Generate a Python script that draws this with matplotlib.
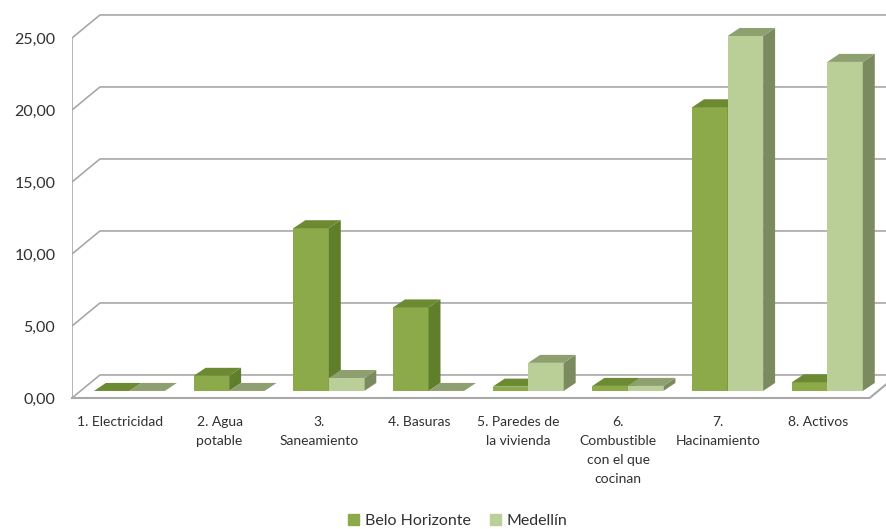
import matplotlib
matplotlib.use('Agg')
import matplotlib.pyplot as plt
import matplotlib.patches as mpatches
from matplotlib.patches import Polygon

plt.rcParams['font.family'] = ['Lato', 'DejaVu Sans']

categories = ['1. Electricidad', '2. Agua\npotable', '3.\nSaneamiento', '4. Basuras',
              '5. Paredes de\nla vivienda', '6.\nCombustible\ncon el que\ncocinan',
              '7.\nHacinamiento', '8. Activos']
belo_horizonte = [0.0, 1.05, 11.3, 5.8, 0.3, 0.35, 19.7, 0.6]
medellin = [0.0, 0.0, 0.9, 0.0, 1.95, 0.35, 24.65, 22.85]
y_ticks = [0, 5, 10, 15, 20, 25]
y_tick_labels = ['0,00', '5,00', '10,00', '15,00', '20,00', '25,00']
series_names = ['Belo Horizonte', 'Medellín']

# faces: front, top, side
BH_COLORS = ('#8DAA4B', '#6B8A32', '#5F7F2B')
MED_COLORS = ('#BACF97', '#8E9F70', '#7B8B5F')
GRID = '#A8A8A8'

# oblique "3d" offsets in data units
WALL_DX, WALL_DY = 0.28, 1.6
BAR_DX, BAR_DY = 0.12, 0.556
BAR_BASE = 0.49
BAR_W = 0.356
BAR_X0 = 0.22

W, H = 887, 529
fig = plt.figure(figsize=(W / 100, H / 100), dpi=100)
ax = fig.add_axes([72 / W, (H - 398) / H, 815 / W, 398 / H])
ax.set_xlim(0, 815 / 99.7)
ax.set_ylim(0, 398 / 14.4)
for s in ax.spines.values():
    s.set_visible(False)

# walls / gridlines
xr = len(categories) + 1
for v in y_ticks:
    ax.plot([0, WALL_DX, xr], [v, v + WALL_DY, v + WALL_DY], color=GRID, lw=1.2,
            zorder=1, solid_capstyle='butt')
ax.plot([0, 0], [0, y_ticks[-1]], color=GRID, lw=1.2, zorder=1)
# floor front edge
n = len(categories)
ax.plot([0, n, n + WALL_DX], [0, 0, WALL_DY], color=GRID, lw=1.5, zorder=1, clip_on=False)


def draw_bar(x, h, colors, z):
    front, top, side = colors
    b = BAR_BASE
    if h > 0:
        ax.bar(x, h, width=BAR_W, bottom=b, align='edge', color=front, lw=0, zorder=z)
        ax.add_patch(Polygon([(x + BAR_W, b), (x + BAR_W, b + h),
                              (x + BAR_W + BAR_DX, b + h + BAR_DY),
                              (x + BAR_W + BAR_DX, b + BAR_DY)],
                             closed=True, fc=side, ec='none', zorder=z))
    ax.add_patch(Polygon([(x, b + h), (x + BAR_W, b + h),
                          (x + BAR_W + BAR_DX, b + h + BAR_DY),
                          (x + BAR_DX, b + h + BAR_DY)],
                         closed=True, fc=top, ec='none', zorder=z))


for i in range(n):
    x = BAR_X0 + i
    draw_bar(x, belo_horizonte[i], BH_COLORS, 3 + 2 * i)
    draw_bar(x + BAR_W, medellin[i], MED_COLORS, 4 + 2 * i)

ax.set_yticks(y_ticks)
ax.set_yticklabels(y_tick_labels, fontsize=11.5, color='#303030')
ax.set_xticks([0.48 + i for i in range(n)])
ax.set_xticklabels(categories, fontsize=10, color='#303030', linespacing=1.7, va='top')
ax.tick_params(axis='y', length=0, pad=12)
ax.tick_params(axis='x', length=0, pad=13)

handles = [mpatches.Patch(color=BH_COLORS[0], label=series_names[0]),
           mpatches.Patch(color=MED_COLORS[0], label=series_names[1])]
fig.legend(handles=handles, loc='center', bbox_to_anchor=(458 / W, 1 - 521 / H), ncol=2,
           frameon=False, fontsize=11.5, handlelength=0.65, handleheight=0.65,
           handletextpad=0.4, columnspacing=1.2, labelcolor='#303030')

fig.savefig('out.png', dpi=100)
